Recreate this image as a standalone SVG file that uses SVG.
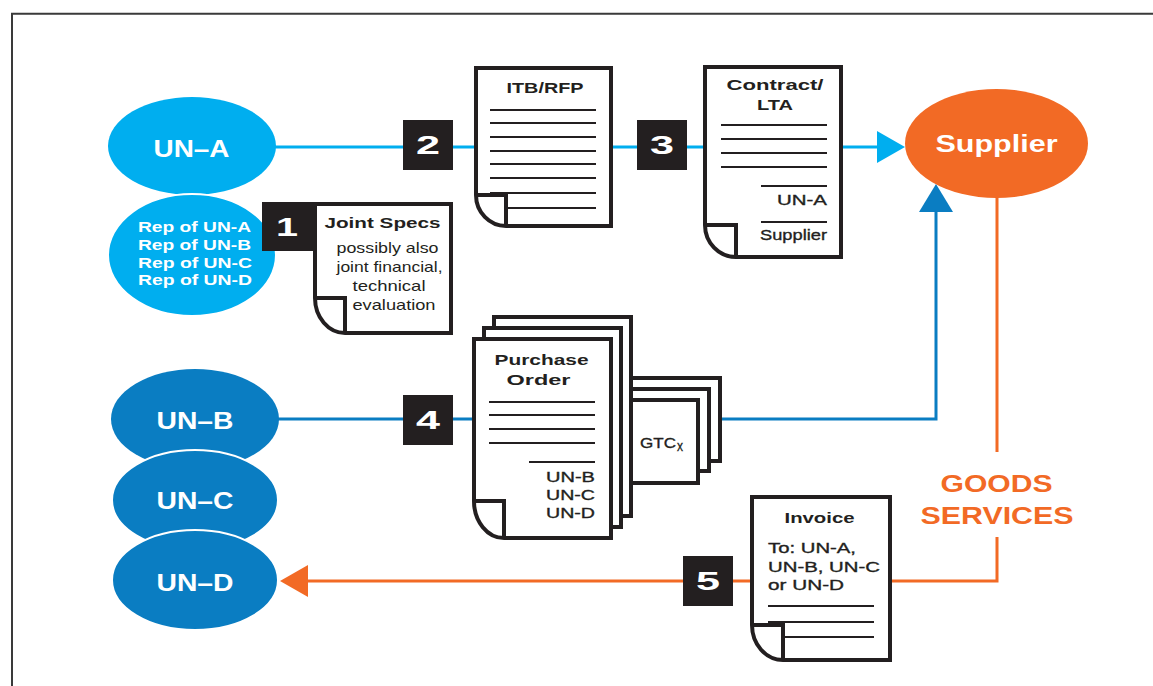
<svg xmlns="http://www.w3.org/2000/svg" width="1153" height="686" viewBox="0 0 1153 686">
<style>
.doc{fill:#fff;stroke:#231F20;stroke-width:4;stroke-linejoin:miter}
.fold{fill:none;stroke:#231F20;stroke-width:4}
.ln{stroke:#231F20;stroke-width:2}
.badge{fill:#231F20}
.num{font-family:"Liberation Sans",Arial,sans-serif;font-weight:bold;font-size:25px;fill:#fff;text-anchor:middle}
.ell{font-family:"Liberation Sans",Arial,sans-serif;font-weight:bold;font-size:24px;fill:#fff;text-anchor:middle}
.rep{font-family:"Liberation Sans",Arial,sans-serif;font-weight:bold;font-size:14px;fill:#fff}
.hd{font-family:"Liberation Sans",Arial,sans-serif;font-weight:bold;font-size:15px;fill:#231F20;text-anchor:middle}
.tx{font-family:"Liberation Sans",Arial,sans-serif;font-size:15px;fill:#231F20}
.md{font-family:"Liberation Sans",Arial,sans-serif;font-size:15px;fill:#231F20;stroke:#231F20;stroke-width:0.35}
.gs{font-family:"Liberation Sans",Arial,sans-serif;font-weight:bold;font-size:23px;fill:#F26A25;text-anchor:middle}
.lb{fill:none;stroke:#00AEEF;stroke-width:3}
.db{fill:none;stroke:#0A7DC2;stroke-width:3}
.or{fill:none;stroke:#F26A25;stroke-width:3}
</style>

<path d="M12,686 V13.7 H1153" fill="none" stroke="#3a3a3a" stroke-width="2"/>

<g id="connectors">
  <path class="lb" d="M270,147 H878"/>
  <polygon points="877,131 905,147 877,163" fill="#00AEEF"/>
  <path class="db" d="M275,419 H936 V210"/>
  <polygon points="919,212 936,184 953,212" fill="#0A7DC2"/>
  <path class="or" d="M997,195 V452"/>
  <path class="or" d="M997,537 V581 H306"/>
  <polygon points="280,581 308,565 308,597" fill="#F26A25"/>
</g>

<g id="un-a">
  <ellipse cx="192" cy="146" rx="84" ry="49" fill="#00AEEF"/>
  <text class="ell" x="191.5" y="157" textLength="76" lengthAdjust="spacingAndGlyphs">UN–A</text>
</g>

<g id="reps">
  <ellipse cx="192" cy="255" rx="84" ry="61" fill="#00AEEF" stroke="#fff" stroke-width="2"/>
  <text class="rep" x="138" y="232" textLength="113" lengthAdjust="spacingAndGlyphs">Rep of UN-A</text>
  <text class="rep" x="138" y="250" textLength="113" lengthAdjust="spacingAndGlyphs">Rep of UN-B</text>
  <text class="rep" x="138" y="268" textLength="114" lengthAdjust="spacingAndGlyphs">Rep of UN-C</text>
  <text class="rep" x="138" y="285" textLength="114" lengthAdjust="spacingAndGlyphs">Rep of UN-D</text>
</g>

<g id="un-b">
  <ellipse cx="195" cy="419" rx="84" ry="50" fill="#0A7DC2"/>
  <text class="ell" x="195" y="429" textLength="77" lengthAdjust="spacingAndGlyphs">UN–B</text>
</g>
<g id="un-c">
  <ellipse cx="195" cy="500" rx="83" ry="50" fill="#0A7DC2" stroke="#fff" stroke-width="2"/>
  <text class="ell" x="195" y="509" textLength="77" lengthAdjust="spacingAndGlyphs">UN–C</text>
</g>
<g id="un-d">
  <ellipse cx="195" cy="580" rx="83" ry="50" fill="#0A7DC2" stroke="#fff" stroke-width="2"/>
  <text class="ell" x="195" y="591" textLength="77" lengthAdjust="spacingAndGlyphs">UN–D</text>
</g>

<g id="supplier">
  <ellipse cx="996.5" cy="143.5" rx="91.5" ry="54.5" fill="#F26A25"/>
  <text class="ell" x="996.5" y="152" font-size="25" textLength="122" lengthAdjust="spacingAndGlyphs">Supplier</text>
</g>

<g id="step1">
  <rect class="badge" x="262" y="202" width="51" height="49"/>
  <text class="num" x="287" y="235.5" textLength="22" lengthAdjust="spacingAndGlyphs">1</text>
</g>
<g id="step2">
  <rect class="badge" x="403" y="120" width="50" height="50"/>
  <text class="num" x="428" y="154" textLength="24" lengthAdjust="spacingAndGlyphs">2</text>
</g>
<g id="step3">
  <rect class="badge" x="637" y="120" width="50" height="50"/>
  <text class="num" x="662" y="154" textLength="24" lengthAdjust="spacingAndGlyphs">3</text>
</g>
<g id="step4">
  <rect class="badge" x="403" y="395" width="50" height="50"/>
  <text class="num" x="428" y="429" textLength="24" lengthAdjust="spacingAndGlyphs">4</text>
</g>
<g id="step5">
  <rect class="badge" x="683" y="556" width="50" height="50"/>
  <text class="num" x="708" y="590" textLength="24" lengthAdjust="spacingAndGlyphs">5</text>
</g>

<g id="joint-specs">
  <path class="doc" d="M315,204 H451 V333 H345 A30 35 0 0 1 315,298 Z"/>
  <path class="fold" d="M315,298 H345 V333"/>
  <text class="hd" x="382.5" y="228" textLength="116" lengthAdjust="spacingAndGlyphs">Joint Specs</text>
  <text class="tx" x="387.5" y="253" text-anchor="middle" textLength="102" lengthAdjust="spacingAndGlyphs">possibly also</text>
  <text class="tx" x="389.5" y="272" text-anchor="middle" textLength="106" lengthAdjust="spacingAndGlyphs">joint financial,</text>
  <text class="tx" x="389" y="291" text-anchor="middle" textLength="73" lengthAdjust="spacingAndGlyphs">technical</text>
  <text class="tx" x="394" y="310" text-anchor="middle" textLength="83" lengthAdjust="spacingAndGlyphs">evaluation</text>
</g>

<g id="itb-rfp">
  <path class="doc" d="M476,68 H611 V226 H506 A30 31 0 0 1 476,195 Z"/>
  <path class="fold" d="M476,195 H506 V226"/>
  <text class="hd" x="545" y="93" textLength="77" lengthAdjust="spacingAndGlyphs">ITB/RFP</text>
  <path class="ln" d="M490,110 H596 M490,123 H596 M490,137 H596 M490,151 H596 M490,164 H596 M490,178 H596 M490,193 H596 M506,208 H596"/>
</g>

<g id="contract">
  <path class="doc" d="M705,67 H841 V257 H736 A31 32 0 0 1 705,225 Z"/>
  <path class="fold" d="M705,225 H736 V257"/>
  <text class="hd" x="775" y="90" textLength="97" lengthAdjust="spacingAndGlyphs">Contract/</text>
  <text class="hd" x="775" y="110" textLength="36" lengthAdjust="spacingAndGlyphs">LTA</text>
  <path class="ln" d="M721,125 H827 M721,139 H827 M721,153 H827 M721,167 H827 M761,186 H827 M761,222 H827"/>
  <text class="md" x="827" y="205" text-anchor="end" textLength="50" lengthAdjust="spacingAndGlyphs">UN-A</text>
  <text class="md" x="827" y="240" text-anchor="end" textLength="67" lengthAdjust="spacingAndGlyphs">Supplier</text>
</g>

<g id="gtc">
  <rect class="doc" x="590" y="378" width="130" height="83"/>
  <rect class="doc" x="590" y="389" width="119" height="82"/>
  <rect class="doc" x="590" y="400" width="108" height="83"/>
  <text class="md" x="640" y="448" textLength="36" lengthAdjust="spacingAndGlyphs">GTC</text>
  <text class="tx" x="677" y="451" font-size="9" stroke="#231F20" stroke-width="0.3" textLength="6" lengthAdjust="spacingAndGlyphs">x</text>
</g>

<g id="purchase-order">
  <rect class="doc" x="494" y="317" width="137" height="199"/>
  <rect class="doc" x="484" y="328" width="137" height="199"/>
  <path class="doc" d="M474,339 H611 V538 H504 A30 37 0 0 1 474,501 Z"/>
  <path class="fold" d="M474,501 H504 V538"/>
  <text class="hd" x="541.5" y="365" font-size="16" textLength="94" lengthAdjust="spacingAndGlyphs">Purchase</text>
  <text class="hd" x="538.5" y="385" font-size="16" textLength="64" lengthAdjust="spacingAndGlyphs">Order</text>
  <path class="ln" d="M489,402 H595 M489,415 H595 M489,429 H595 M489,443 H595 M529,462 H595"/>
  <text class="md" x="595" y="482" text-anchor="end" textLength="49" lengthAdjust="spacingAndGlyphs">UN-B</text>
  <text class="md" x="595" y="500" text-anchor="end" textLength="49" lengthAdjust="spacingAndGlyphs">UN-C</text>
  <text class="md" x="595" y="518" text-anchor="end" textLength="49" lengthAdjust="spacingAndGlyphs">UN-D</text>
</g>

<g id="invoice">
  <path class="doc" d="M752,497 H890 V660 H783 A31 35 0 0 1 752,625 Z"/>
  <path class="fold" d="M752,625 H783 V660"/>
  <text class="hd" x="819.5" y="523" font-size="16" textLength="70" lengthAdjust="spacingAndGlyphs">Invoice</text>
  <text class="md" x="768" y="553" font-size="16" textLength="88" lengthAdjust="spacingAndGlyphs">To: UN-A,</text>
  <text class="md" x="768" y="572" font-size="16" textLength="112" lengthAdjust="spacingAndGlyphs">UN-B, UN-C</text>
  <text class="md" x="768" y="590" font-size="16" textLength="76" lengthAdjust="spacingAndGlyphs">or UN-D</text>
  <path class="ln" d="M768,606 H874 M768,622 H874 M783,637 H874"/>
</g>

<g id="goods-services">
  <text class="gs" x="996.5" y="492" textLength="112" lengthAdjust="spacingAndGlyphs">GOODS</text>
  <text class="gs" x="997" y="524" textLength="153" lengthAdjust="spacingAndGlyphs">SERVICES</text>
</g>
</svg>
